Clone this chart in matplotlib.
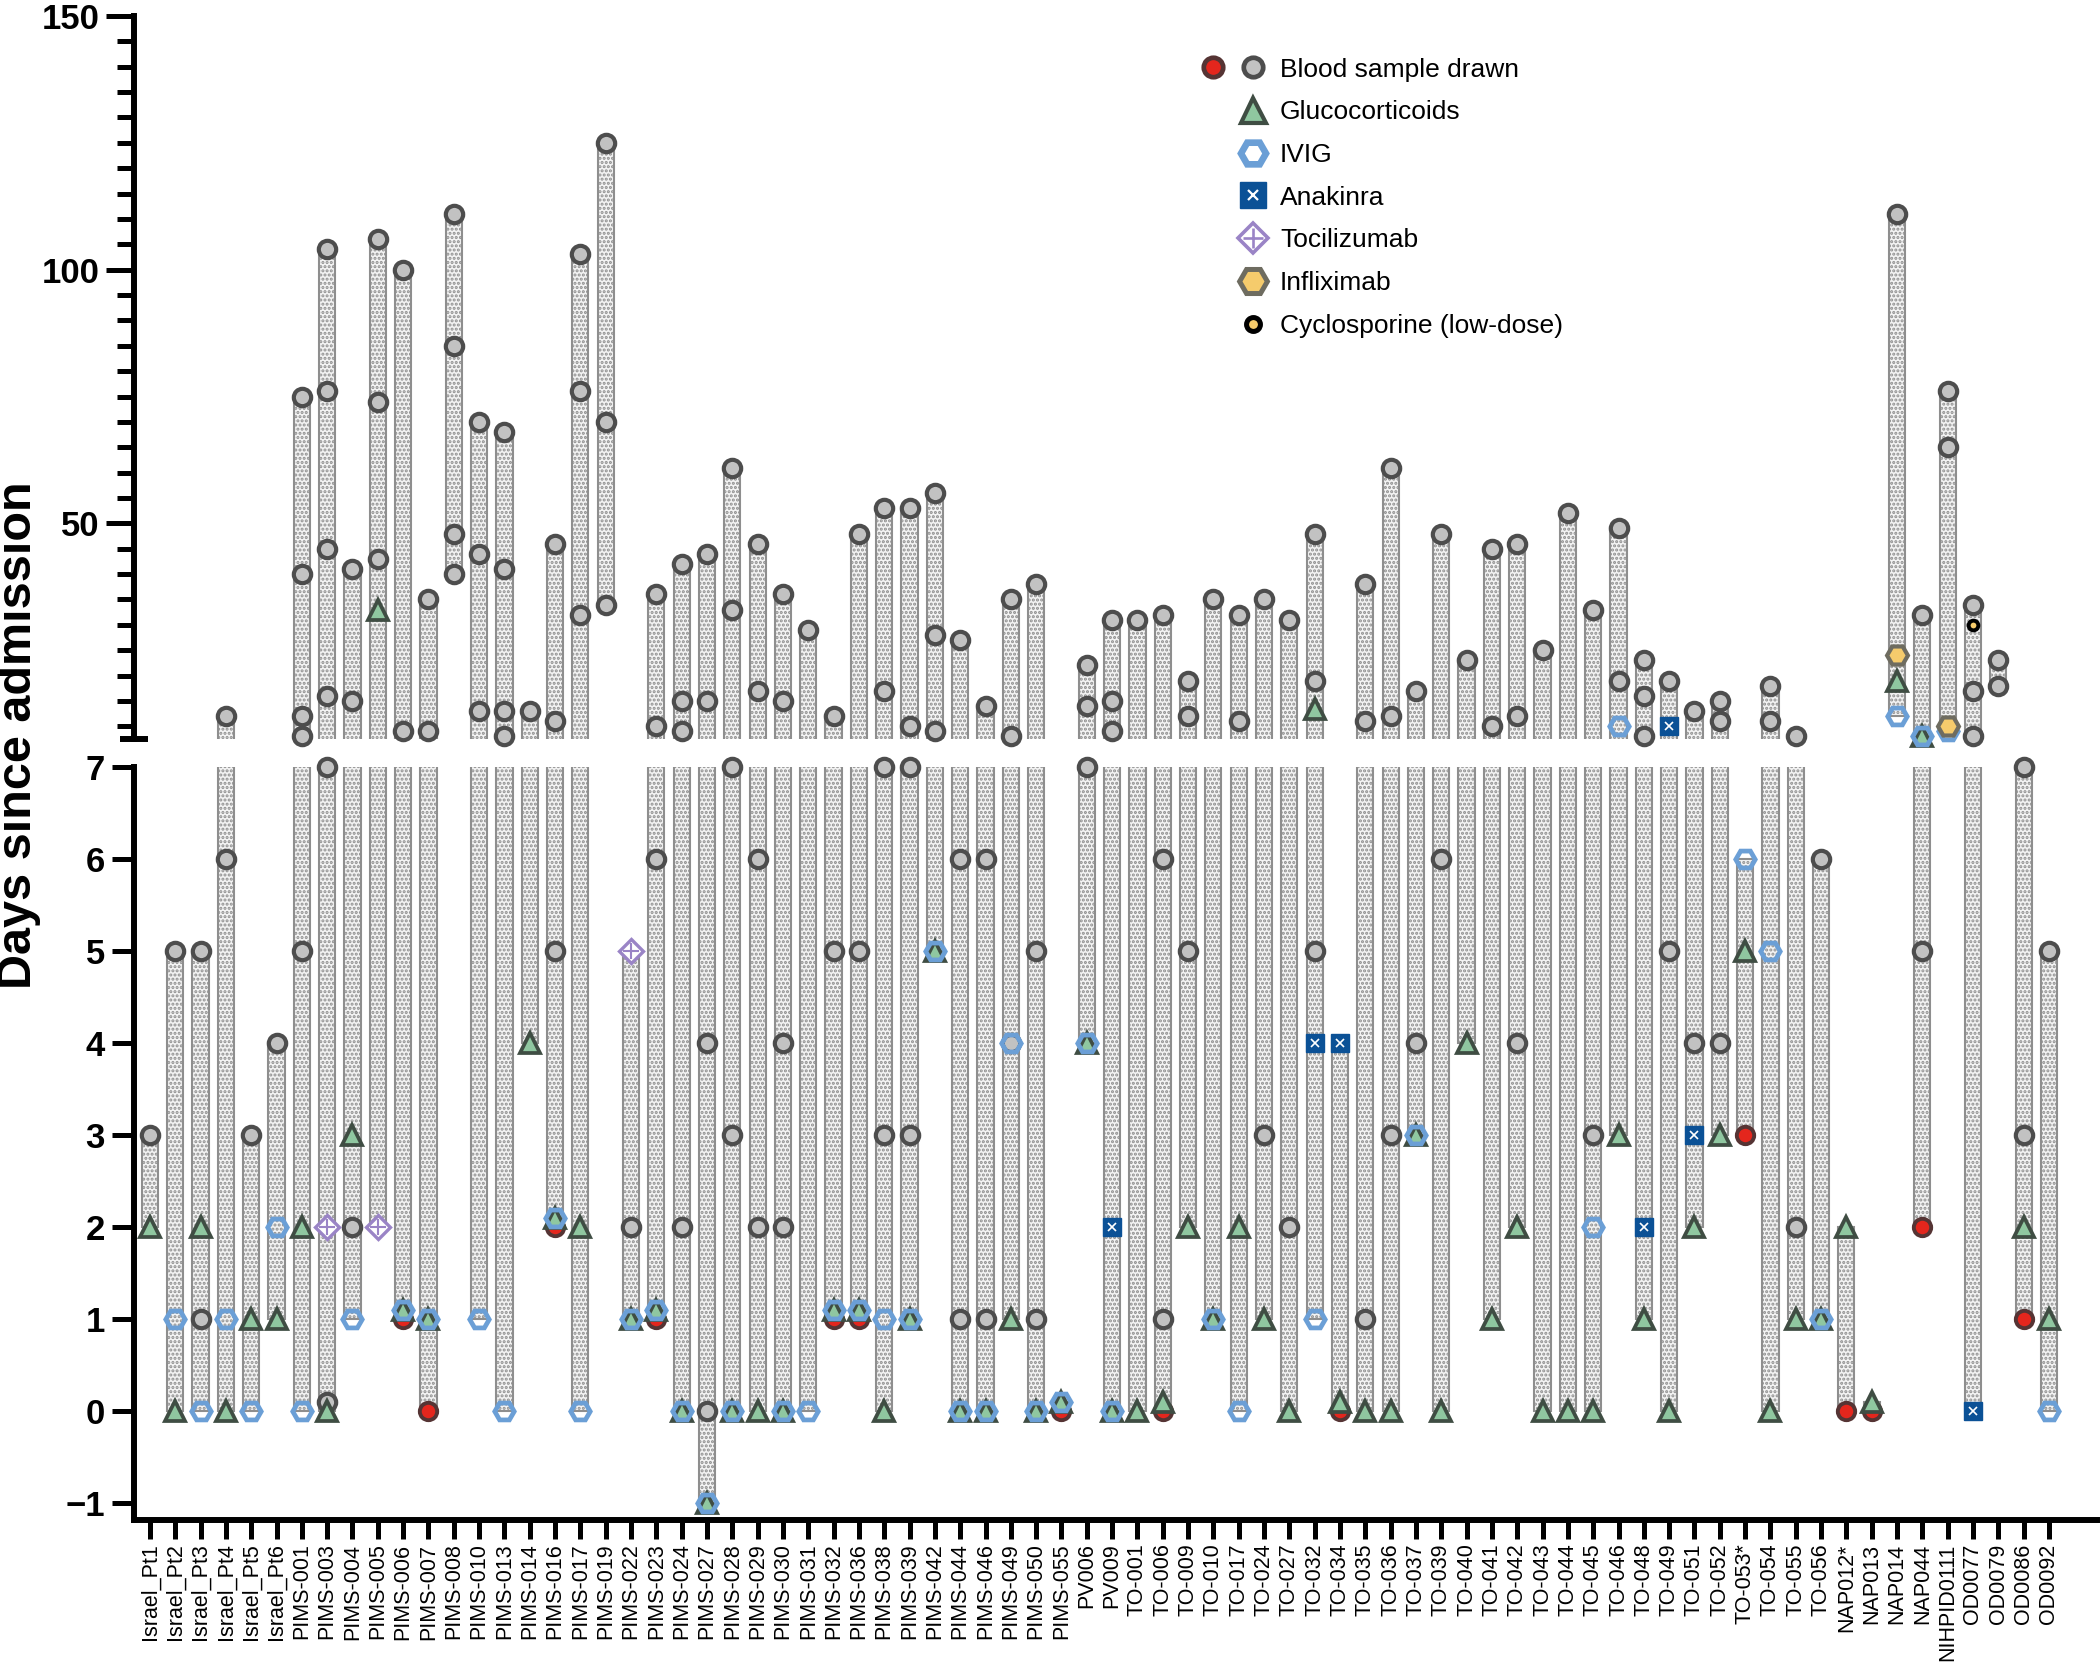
import numpy as np
import matplotlib.pyplot as plt
from matplotlib.lines import Line2D
from matplotlib.legend_handler import HandlerTuple

plt.rcParams['font.family'] = ['Liberation Sans', 'DejaVu Sans']
plt.rcParams['hatch.linewidth'] = 1.5

# ---- data (days since admission) ----
patients = ["Israel_Pt1", "Israel_Pt2", "Israel_Pt3", "Israel_Pt4", "Israel_Pt5", "Israel_Pt6",
            "PIMS-001", "PIMS-003", "PIMS-004", "PIMS-005", "PIMS-006", "PIMS-007", "PIMS-008",
            "PIMS-010", "PIMS-013", "PIMS-014", "PIMS-016", "PIMS-017", "PIMS-019", "PIMS-022",
            "PIMS-023", "PIMS-024", "PIMS-027", "PIMS-028", "PIMS-029", "PIMS-030", "PIMS-031",
            "PIMS-032", "PIMS-036", "PIMS-038", "PIMS-039", "PIMS-042", "PIMS-044", "PIMS-046",
            "PIMS-049", "PIMS-050", "PIMS-055", "PV006", "PV009",
            "TO-001", "TO-006", "TO-009", "TO-010", "TO-017", "TO-024", "TO-027", "TO-032",
            "TO-034", "TO-035", "TO-036", "TO-037", "TO-039", "TO-040", "TO-041", "TO-042",
            "TO-043", "TO-044", "TO-045", "TO-046", "TO-048", "TO-049", "TO-051", "TO-052",
            "TO-053*", "TO-054", "TO-055", "TO-056", "NAP012*", "NAP013", "NAP014", "NAP044",
            "NIHPID0111", "OD0077", "OD0079", "OD0086", "OD0092"]

blood = {"Israel_Pt1": [3], "Israel_Pt2": [5], "Israel_Pt3": [5, 1], "Israel_Pt4": [12, 6],
         "Israel_Pt5": [3], "Israel_Pt6": [4],
         "PIMS-001": [75, 40, 12, 8, 5], "PIMS-003": [104, 76, 45, 16, 7, 0.1],
         "PIMS-004": [41, 15, 2], "PIMS-005": [106, 74, 43], "PIMS-006": [100, 9],
         "PIMS-007": [35, 9], "PIMS-008": [111, 85, 48, 40], "PIMS-010": [70, 44, 13],
         "PIMS-013": [68, 41, 13, 8], "PIMS-014": [13], "PIMS-016": [46, 11, 5],
         "PIMS-017": [103, 76, 32], "PIMS-019": [125, 70, 34], "PIMS-022": [2],
         "PIMS-023": [36, 10, 6], "PIMS-024": [42, 15, 9, 2], "PIMS-027": [44, 15, 4, 0],
         "PIMS-028": [61, 33, 7, 3], "PIMS-029": [46, 17, 6, 2], "PIMS-030": [36, 15, 4, 2],
         "PIMS-031": [29], "PIMS-032": [12, 5], "PIMS-036": [48, 5], "PIMS-038": [53, 17, 7, 3],
         "PIMS-039": [53, 10, 7, 3], "PIMS-042": [56, 28, 9], "PIMS-044": [27, 6, 1],
         "PIMS-046": [14, 6, 1], "PIMS-049": [35, 8, 4], "PIMS-050": [38, 5, 1],
         "PV006": [22, 14, 7], "PV009": [31, 15, 9],
         "TO-001": [31], "TO-006": [32, 6, 1], "TO-009": [19, 12, 5], "TO-010": [35],
         "TO-017": [32, 11], "TO-024": [35, 3], "TO-027": [31, 2], "TO-032": [48, 19, 5],
         "TO-035": [38, 11, 1], "TO-036": [61, 12, 3], "TO-037": [17, 4], "TO-039": [48, 6],
         "TO-040": [23], "TO-041": [45, 10], "TO-042": [46, 12, 4], "TO-043": [25],
         "TO-044": [52], "TO-045": [33, 3], "TO-046": [49, 19], "TO-048": [23, 16, 8],
         "TO-049": [19, 5], "TO-051": [13, 4], "TO-052": [15, 11, 4], "TO-054": [18, 11],
         "TO-055": [8, 2], "TO-056": [6], "NAP014": [111], "NAP044": [32, 5],
         "NIHPID0111": [76, 65], "OD0077": [34, 17, 8], "OD0079": [23, 18],
         "OD0086": [7, 3], "OD0092": [5]}

blood_red = {"PIMS-006": [1], "PIMS-007": [0], "PIMS-016": [2], "PIMS-023": [1], "PIMS-032": [1],
             "PIMS-036": [1], "PIMS-055": [0], "TO-006": [0], "TO-034": [0], "TO-053*": [3],
             "NAP012*": [0], "NAP013": [0], "NAP044": [2], "OD0086": [1]}

gluco = {"Israel_Pt1": [2], "Israel_Pt2": [0], "Israel_Pt3": [2], "Israel_Pt4": [0],
         "Israel_Pt5": [1], "Israel_Pt6": [1],
         "PIMS-001": [2], "PIMS-003": [0], "PIMS-004": [3], "PIMS-005": [33], "PIMS-006": [1.1],
         "PIMS-007": [1], "PIMS-014": [4], "PIMS-016": [2.1], "PIMS-017": [2], "PIMS-022": [1],
         "PIMS-023": [1.1], "PIMS-024": [0], "PIMS-027": [-1], "PIMS-028": [0], "PIMS-029": [0],
         "PIMS-030": [0], "PIMS-032": [1.1], "PIMS-036": [1.1], "PIMS-038": [0], "PIMS-039": [1],
         "PIMS-042": [5], "PIMS-044": [0], "PIMS-046": [0], "PIMS-049": [1], "PIMS-050": [0],
         "PIMS-055": [0.1], "PV006": [4], "PV009": [0],
         "TO-001": [0], "TO-006": [0.1], "TO-009": [2], "TO-010": [1], "TO-017": [2],
         "TO-024": [1], "TO-027": [0], "TO-032": [13.5], "TO-034": [0.1], "TO-035": [0],
         "TO-036": [0], "TO-037": [3], "TO-039": [0], "TO-040": [4], "TO-041": [1],
         "TO-042": [2], "TO-043": [0], "TO-044": [0], "TO-045": [0], "TO-046": [3],
         "TO-048": [1], "TO-049": [0], "TO-051": [2], "TO-052": [3], "TO-053*": [5],
         "TO-054": [0], "TO-055": [1], "TO-056": [1], "NAP012*": [2], "NAP013": [0.1],
         "NAP014": [19], "NAP044": [8], "OD0086": [2], "OD0092": [1]}

ivig = {"Israel_Pt2": [1], "Israel_Pt3": [0], "Israel_Pt4": [1], "Israel_Pt5": [0], "Israel_Pt6": [2],
        "PIMS-001": [0], "PIMS-004": [1], "PIMS-006": [1.1], "PIMS-007": [1], "PIMS-010": [1],
        "PIMS-013": [0], "PIMS-016": [2.1], "PIMS-017": [0], "PIMS-022": [1], "PIMS-023": [1.1],
        "PIMS-024": [0], "PIMS-027": [-1], "PIMS-028": [0], "PIMS-030": [0], "PIMS-031": [0],
        "PIMS-032": [1.1], "PIMS-036": [1.1], "PIMS-038": [1], "PIMS-039": [1], "PIMS-042": [5],
        "PIMS-044": [0], "PIMS-046": [0], "PIMS-049": [4], "PIMS-050": [0], "PIMS-055": [0.1],
        "PV006": [4], "PV009": [0], "TO-010": [1], "TO-017": [0], "TO-032": [1], "TO-037": [3],
        "TO-045": [2], "TO-046": [10], "TO-053*": [6], "TO-054": [5], "TO-056": [1],
        "NAP014": [12], "NAP044": [8], "NIHPID0111": [9], "OD0092": [0]}

anakinra = {"PV009": [2], "TO-032": [4], "TO-034": [4], "TO-048": [2], "TO-049": [10],
            "TO-051": [3], "OD0077": [0]}
tocilizumab = {"PIMS-003": [2], "PIMS-005": [2], "PIMS-022": [5]}
infliximab = {"NAP014": [24], "NIHPID0111": [10]}
cyclosporine = {"OD0077": [30]}

# ---- marker styles ----
st_gray = dict(marker='o', mfc='#c2c2c2', mec='#4d4d4d')
st_red = dict(marker='o', mfc='#e4261d', mec='#553434')
st_gluco = dict(marker='^', mfc='#8fc7a0', mec='#3f4d43')
st_ivig = dict(marker='H', mfc='none', mec='#6b9fd6')
st_ana = dict(marker='s', mfc='#0b5196', mec='#0b5196')
st_ana_x = dict(marker='x', mfc='none', mec='white')
st_toci = dict(marker='D', mfc='white', mec='#9a84c6')
st_toci_p = dict(marker='+', mfc='none', mec='#9a84c6')
st_infl = dict(marker='H', mfc='#f5cb6c', mec='#6e6c60')
st_cyc = dict(marker='o', mfc='#f5cb6c', mec='black')

split = 7.25
xpos = {p: i for i, p in enumerate(patients)}


def draw_points(ax, series, upper, ms, mew, z, style):
    xs, ys = [], []
    for p, vals in series.items():
        for v in vals:
            if (v > split) == upper:
                xs.append(xpos[p])
                ys.append(v)
    ax.plot(xs, ys, ls='none', ms=ms, mew=mew, zorder=z, clip_on=False, **style)


fig = plt.figure(figsize=(21, 16.67), dpi=100)
ax_hi = fig.add_axes([0.0638, 0.5567, 0.9348, 0.4337])
ax_lo = fig.add_axes([0.0638, 0.0882, 0.9348, 0.4517])

all_series = [blood, blood_red, gluco, ivig, anakinra, tocilizumab, infliximab, cyclosporine]
for ax, upper in [(ax_hi, True), (ax_lo, False)]:
    for p in patients:
        vals = [v for s in all_series for v in s.get(p, [])]
        lo, hi = min(vals), max(vals)
        if hi > lo:
            ax.bar(xpos[p], hi - lo, bottom=lo, width=0.64, facecolor='#f3f3f3',
                   edgecolor='#8e8e8e', linewidth=1.5, hatch='....', zorder=1)
    draw_points(ax, blood, upper, 12.5, 3, 3, st_gray)
    draw_points(ax, blood_red, upper, 12.5, 2.8, 3, st_red)
    draw_points(ax, gluco, upper, 14.5, 2.7, 4, st_gluco)
    draw_points(ax, ivig, upper, 14, 3.4, 5, st_ivig)
    draw_points(ax, anakinra, upper, 13.5, 1, 5, st_ana)
    draw_points(ax, anakinra, upper, 5.5, 1.2, 6, st_ana_x)
    draw_points(ax, tocilizumab, upper, 12, 2.4, 5, st_toci)
    draw_points(ax, tocilizumab, upper, 12, 1.5, 6, st_toci_p)
    draw_points(ax, infliximab, upper, 15, 3, 5, st_infl)
    draw_points(ax, cyclosporine, upper, 7, 2.8, 6, st_cyc)
    ax.set_xlim(-0.63, 76.9)
    for s in ['top', 'right']:
        ax.spines[s].set_visible(False)
    ax.spines['left'].set_linewidth(4.3)

# upper segment
ax_hi.set_ylim(7.5, 150)
ax_hi.spines['bottom'].set_visible(False)
ax_hi.set_xticks([])
ax_hi.set_yticks([50, 100, 150])
ax_hi.set_yticks(np.arange(10, 150, 5), minor=True)
ax_hi.tick_params(axis='y', which='major', length=20, width=3.6, pad=5, labelsize=25)
ax_hi.tick_params(axis='y', which='minor', length=12, width=3.6)
ax_hi.plot([-0.0072, 0.0072], [0, 0], transform=ax_hi.transAxes, color='black', lw=4.3,
           solid_capstyle='butt', clip_on=False)

# lower segment
ax_lo.set_ylim(-1.18, 7)
ax_lo.set_yticks(range(-1, 8))
ax_lo.spines['bottom'].set_linewidth(4.3)
ax_lo.tick_params(axis='y', length=16, width=3.6, pad=5, labelsize=25)
ax_lo.set_xticks(range(len(patients)))
ax_lo.set_xticklabels(patients, rotation=90, fontsize=15.5)
ax_lo.tick_params(axis='x', length=14, width=3.6, pad=3)

for ax in (ax_hi, ax_lo):
    for lab in ax.get_yticklabels():
        lab.set_fontweight('bold')

fig.text(0.009, 0.559, 'Days since admission', rotation=90, fontsize=35,
         fontweight='bold', ha='center', va='center')

# legend
def mk(style, ms, mew):
    return Line2D([], [], ls='none', ms=ms, mew=mew, **style)

blank = Line2D([], [], ls='none')
entries = [
    ((mk(st_red, 14, 3.4), mk(st_gray, 14, 3.4)), 'Blood sample drawn'),
    ((blank, mk(st_gluco, 18, 3)), 'Glucocorticoids'),
    ((blank, mk(st_ivig, 18, 4.8)), 'IVIG'),
    ((blank, (mk(st_ana, 18.5, 1), mk(st_ana_x, 7.5, 1.6))), 'Anakinra'),
    ((blank, (mk(st_toci, 15, 2.6), mk(st_toci_p, 15, 1.9))), 'Tocilizumab'),
    ((blank, mk(st_infl, 20, 3.6)), 'Infliximab'),
    ((blank, mk(st_cyc, 10, 3.6)), 'Cyclosporine (low-dose)'),
]
handles = [h for h, _ in entries]
labels = [l for _, l in entries]
hmap = {h: HandlerTuple(ndivide=None, pad=0) for h in handles}
fig.legend(handles, labels, handler_map=hmap, loc='upper left',
           bbox_to_anchor=(0.5681, 0.9655), frameon=False, fontsize=19,
           handlelength=3.03, handletextpad=0.27, labelspacing=0.71,
           borderpad=0, borderaxespad=0)

fig.savefig('out.png', dpi=100)
